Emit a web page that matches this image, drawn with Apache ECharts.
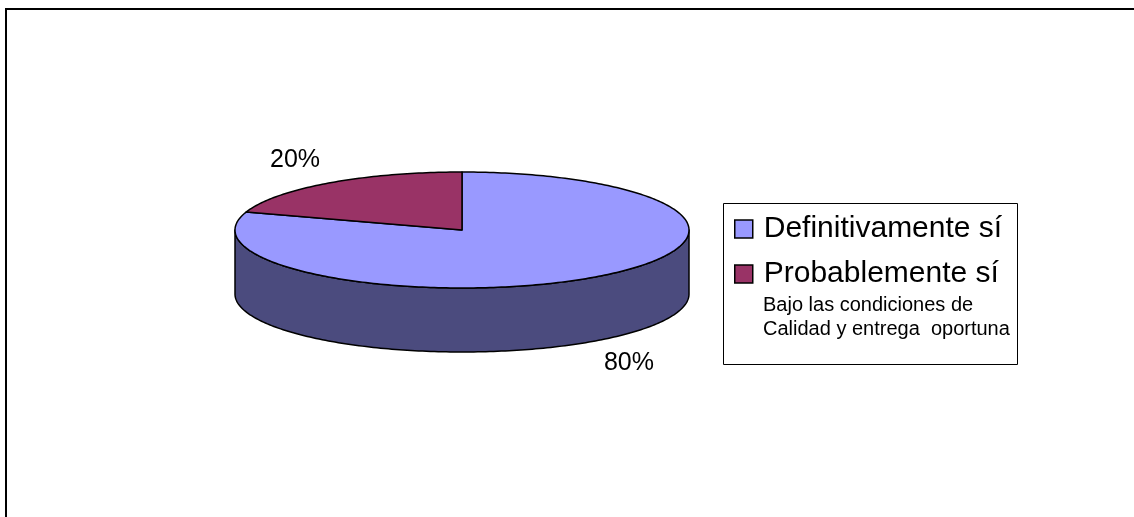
<!DOCTYPE html>
<html>
<head>
<meta charset="utf-8">
<script src="https://cdn.jsdelivr.net/npm/echarts@6/dist/echarts.min.js"></script>
<style>
  html, body { margin: 0; padding: 0; background: #fff; }
  #chart { width: 1134px; height: 517px; }
</style>
</head>
<body>
<div id="chart"></div>
<script>
// Survey answers and their shares
const categories = ['Definitivamente sí', 'Probablemente sí'];
const values = [80, 20];
const noteLines = ['Bajo las condiciones de', 'Calidad y entrega  oportuna'];

// Slice colours: top face and darker side wall
const topColors = ['#9999FF', '#993366'];
const sideColors = ['#4B4B7E', '#4D1A33'];

const FONT = '"Liberation Sans", Arial, Helvetica, sans-serif';

// Tilted pie geometry (pixels)
const CX = 462, CY = 230, RX = 227, RY = 58, DEPTH = 64;
const LABEL_RX = 284, LABEL_RY = 86;

const total = values.reduce((a, b) => a + b, 0);

function ellipsePoint(deg, dy) {
  const r = deg * Math.PI / 180;
  return [CX + RX * Math.cos(r), CY - RY * Math.sin(r) + dy];
}
function arcPoints(from, to, dy) {
  const n = Math.max(2, Math.ceil(Math.abs(to - from)));
  const pts = [];
  for (let k = 0; k <= n; k++) pts.push(ellipsePoint(from + (to - from) * k / n, dy));
  return pts;
}

// Each slice runs clockwise from 12 o'clock, in category order
function renderSlice(params, api) {
  const i = params.seriesIndex;
  const v = api.value(0);
  let before = 0;
  for (let j = 0; j < i; j++) before += values[j];
  const a0 = 90 - 360 * before / total;
  const a1 = a0 - 360 * v / total;
  const children = [];

  // front-facing part of the rim (angles between 180° and 360°)
  for (let k = -1; k <= 1; k++) {
    const lo = Math.max(a1, -180 + 360 * k);
    const hi = Math.min(a0, 360 * k);
    if (hi > lo) {
      const pts = arcPoints(hi, lo, 0).concat(arcPoints(lo, hi, DEPTH));
      children.push({
        type: 'polygon', z2: 1,
        shape: { points: pts },
        style: { fill: sideColors[i], stroke: '#000', lineWidth: 1.5, lineJoin: 'round' }
      });
    }
  }

  // top face
  children.push({
    type: 'polygon', z2: 2,
    shape: { points: [[CX, CY]].concat(arcPoints(a0, a1, 0)) },
    style: { fill: topColors[i], stroke: '#000', lineWidth: 1.5, lineJoin: 'round' }
  });

  // percentage label outside the slice
  const mr = ((a0 + a1) / 2) * Math.PI / 180;
  const s = Math.sin(mr);
  children.push({
    type: 'text', z2: 3,
    style: {
      x: CX + LABEL_RX * Math.cos(mr),
      y: CY - LABEL_RY * s + (s < 0 ? DEPTH : 0),
      text: Math.round(v / total * 100) + '%',
      fill: '#000',
      font: '25px ' + FONT,
      align: 'center',
      verticalAlign: 'middle'
    }
  });
  return { type: 'group', children: children };
}

const chart = echarts.init(document.getElementById('chart'), null, { renderer: 'canvas' });

chart.setOption({
  animation: false,
  backgroundColor: '#fff',
  legend: {
    orient: 'vertical',
    left: 734,
    top: 214,
    padding: 0,
    itemWidth: 18,
    itemHeight: 18,
    itemGap: 15,
    icon: 'rect',
    selectedMode: false,
    data: categories,
    itemStyle: { borderColor: '#000', borderWidth: 1.5 },
    textStyle: {
      fontSize: 30,
      fontFamily: FONT,
      color: '#000',
      lineHeight: 30,
      padding: [0, 0, 0, 6]
    }
  },
  graphic: [
    {
      type: 'rect', z: 0, silent: true,
      shape: { x: 6, y: 9, width: 1400, height: 800 },
      style: { fill: 'none', stroke: '#000', lineWidth: 2 }
    },
    {
      type: 'rect', z: 0, silent: true,
      shape: { x: 723.5, y: 203.5, width: 294, height: 161 },
      style: { fill: 'none', stroke: '#000', lineWidth: 1 }
    },
    {
      type: 'text', silent: true,
      style: { x: 763, y: 305, text: noteLines[0], fill: '#000', font: '20px ' + FONT, verticalAlign: 'middle' }
    },
    {
      type: 'text', silent: true,
      style: { x: 763, y: 329, text: noteLines[1], fill: '#000', font: '20px ' + FONT, verticalAlign: 'middle' }
    }
  ],
  series: categories.map((name, i) => ({
    type: 'custom',
    name: name,
    coordinateSystem: 'none',
    silent: true,
    itemStyle: { color: topColors[i] },
    renderItem: renderSlice,
    data: [values[i]]
  }))
});
</script>
</body>
</html>
